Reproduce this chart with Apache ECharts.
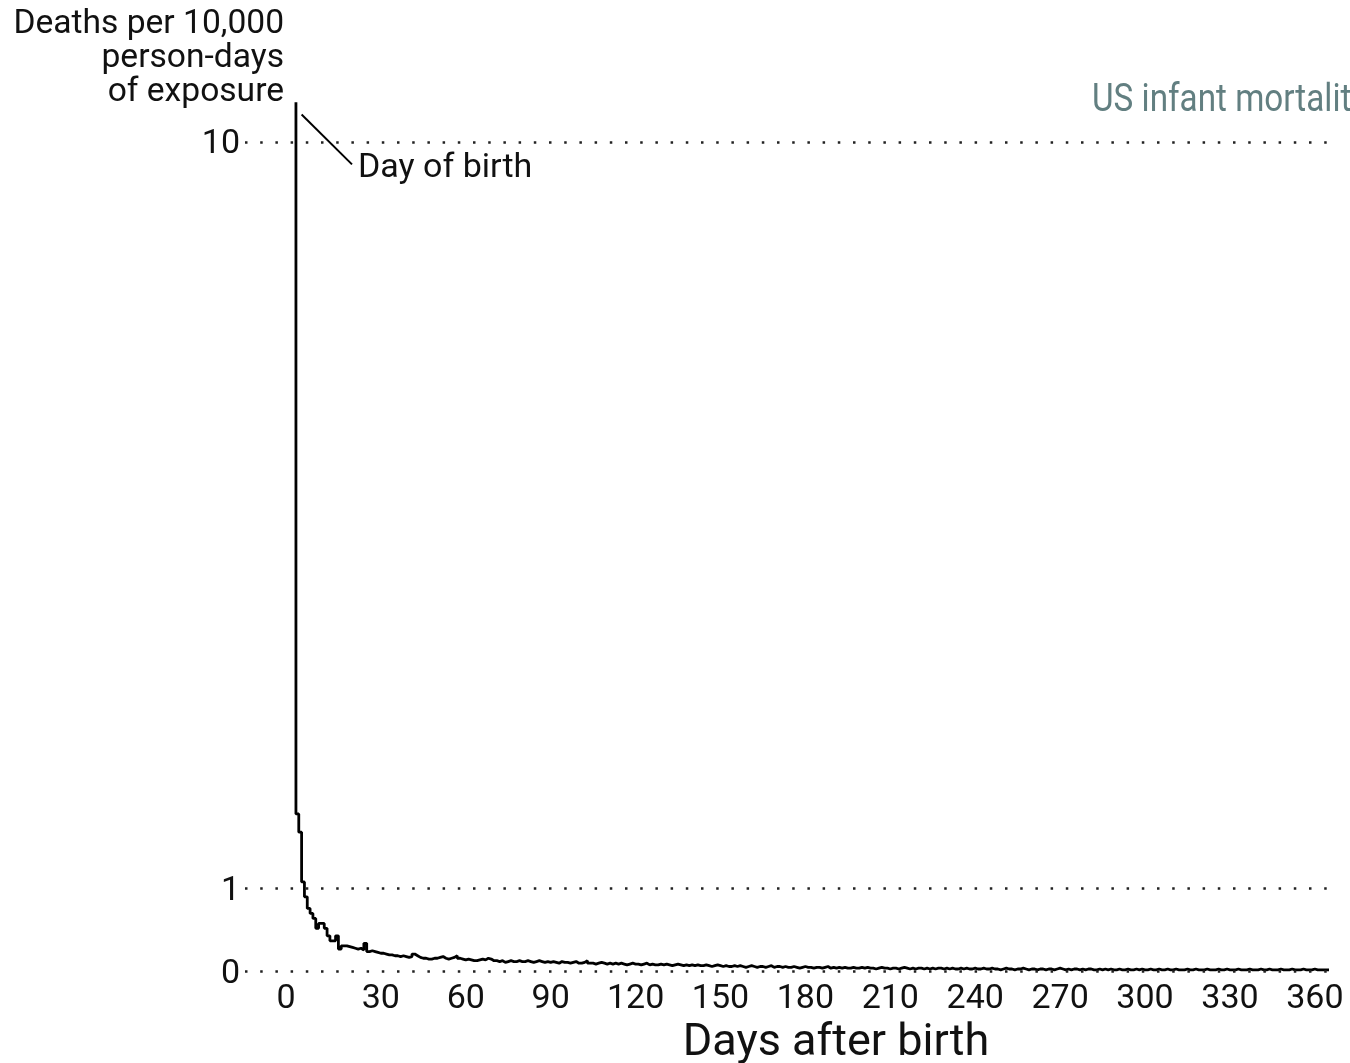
<!DOCTYPE html>
<html><head><meta charset="utf-8">
<script src="https://cdn.jsdelivr.net/npm/echarts@6/dist/echarts.min.js"></script>
<style>html,body{margin:0;padding:0;background:#fff}#c{width:1350px;height:1063px}</style>
</head><body><div id="c"></div>
<script>
// Deaths per 10,000 person-days of exposure, by day after birth (day 0 .. 365)
const deathRate = [
  10.48,
  1.90, 1.68, 1.08, 0.90, 0.76, 0.70, 0.64, 0.52, 0.58, 0.58,
  0.52, 0.43, 0.37, 0.37, 0.43, 0.27, 0.31, 0.31, 0.30, 0.29,
  0.28, 0.27, 0.28, 0.26, 0.34, 0.24, 0.25, 0.24, 0.23, 0.22,
  0.22, 0.21, 0.20, 0.20, 0.19, 0.19, 0.18, 0.19, 0.18, 0.17,
  0.18, 0.21, 0.19, 0.17, 0.16, 0.16, 0.15, 0.15, 0.16, 0.16,
  0.17, 0.18, 0.16, 0.15, 0.16, 0.17, 0.19, 0.16, 0.15, 0.14,
  0.15, 0.14, 0.13, 0.13, 0.14, 0.15, 0.14, 0.16, 0.15, 0.13,
  0.13, 0.12, 0.13, 0.11, 0.12, 0.13, 0.12, 0.12, 0.13, 0.12,
  0.12, 0.13, 0.12, 0.11, 0.12, 0.13, 0.12, 0.11, 0.12, 0.11,
  0.12, 0.11, 0.10, 0.12, 0.11, 0.11, 0.10, 0.11, 0.12, 0.10,
  0.10, 0.11, 0.13, 0.10, 0.10, 0.09, 0.10, 0.11, 0.10, 0.09,
  0.10, 0.09, 0.10, 0.09, 0.10, 0.09, 0.08, 0.09, 0.10, 0.09,
  0.09, 0.08, 0.09, 0.10, 0.08, 0.09, 0.08, 0.08, 0.09, 0.08,
  0.09, 0.08, 0.07, 0.08, 0.09, 0.08, 0.07, 0.08, 0.07, 0.08,
  0.07, 0.08, 0.07, 0.07, 0.08, 0.07, 0.06, 0.07, 0.08, 0.07,
  0.06, 0.07, 0.06, 0.06, 0.07, 0.06, 0.07, 0.06, 0.05, 0.06,
  0.07, 0.06, 0.05, 0.06, 0.06, 0.05, 0.06, 0.07, 0.05, 0.06,
  0.06, 0.05, 0.06, 0.05, 0.05, 0.06, 0.05, 0.04, 0.05, 0.06,
  0.05, 0.05, 0.04, 0.05, 0.05, 0.04, 0.05, 0.06, 0.04, 0.05,
  0.04, 0.05, 0.04, 0.05, 0.04, 0.04, 0.05, 0.04, 0.04, 0.05,
  0.04, 0.05, 0.04, 0.04, 0.03, 0.04, 0.05, 0.04, 0.04, 0.03,
  0.04, 0.04, 0.03, 0.04, 0.05, 0.04, 0.03, 0.04, 0.03, 0.04,
  0.04, 0.03, 0.04, 0.03, 0.04, 0.03, 0.04, 0.04, 0.03, 0.04,
  0.03, 0.04, 0.03, 0.03, 0.04, 0.03, 0.04, 0.03, 0.03, 0.04,
  0.03, 0.03, 0.04, 0.03, 0.03, 0.04, 0.03, 0.03, 0.02, 0.03,
  0.04, 0.03, 0.03, 0.02, 0.03, 0.03, 0.04, 0.03, 0.02, 0.03,
  0.03, 0.02, 0.03, 0.03, 0.02, 0.03, 0.03, 0.02, 0.03, 0.04,
  0.03, 0.02, 0.03, 0.02, 0.03, 0.03, 0.02, 0.03, 0.02, 0.03,
  0.03, 0.02, 0.02, 0.03, 0.02, 0.03, 0.02, 0.03, 0.02, 0.02,
  0.03, 0.02, 0.02, 0.03, 0.02, 0.02, 0.03, 0.02, 0.03, 0.02,
  0.02, 0.03, 0.02, 0.02, 0.03, 0.02, 0.02, 0.03, 0.02, 0.02,
  0.03, 0.02, 0.02, 0.02, 0.03, 0.02, 0.02, 0.03, 0.02, 0.02,
  0.02, 0.03, 0.02, 0.02, 0.02, 0.03, 0.02, 0.02, 0.03, 0.02,
  0.02, 0.02, 0.03, 0.02, 0.02, 0.02, 0.03, 0.02, 0.02, 0.02,
  0.03, 0.02, 0.02, 0.03, 0.02, 0.02, 0.02, 0.03, 0.02, 0.02,
  0.02, 0.03, 0.02, 0.02, 0.02, 0.03, 0.02, 0.02, 0.02, 0.03,
  0.02, 0.02, 0.02, 0.02, 0.02
];
const xTickLabels = [0, 30, 60, 90, 120, 150, 180, 210, 240, 270, 300, 330, 360];
const yTickLabels = [0, 1, 10];
const titleText = 'US infant mortality';
const yAxisTitle = 'Deaths per 10,000\nperson-days\nof exposure';
const xAxisTitle = 'Days after birth';
const annotationText = 'Day of birth';

const FONT = 'Roboto, "Noto Sans", sans-serif';
const seriesData = deathRate.map((v, i) => [i, v]);
const chart = echarts.init(document.getElementById('c'), null, {renderer: 'canvas'});

const gridLines = yTickLabels.map(v => [{coord: [-18, v]}, {coord: [365, v]}]);

chart.setOption({
  animation: false,
  backgroundColor: '#fff',
  grid: {left: 245, right: 21, top: 59, bottom: 91.5, containLabel: false},
  xAxis: {
    type: 'value', min: -18, max: 365,
    axisLine: {show: false}, axisTick: {show: false}, splitLine: {show: false},
    axisLabel: {
      customValues: xTickLabels,
      margin: 11,
      color: '#111', fontSize: 34, fontFamily: FONT,
      formatter: v => v === 0 ? '{s|0}' : String(v),
      rich: {s: {fontSize: 34, fontFamily: FONT, color: '#111', padding: [0, 20, 0, 0]}}
    }
  },
  yAxis: {
    type: 'value', min: 0, max: 11, interval: 1,
    axisLine: {show: false}, axisTick: {show: false}, splitLine: {show: false},
    axisLabel: {
      customValues: yTickLabels,
      margin: 5,
      color: '#111', fontSize: 34, fontFamily: FONT,
      formatter: v => yTickLabels.includes(v) ? '{t|' + v + '}' : '',
      rich: {t: {fontSize: 34, fontFamily: FONT, color: '#111', padding: [6, 0, 0, 0]}}
    }
  },
  series: [
    {
      type: 'line', data: [], z: 1, silent: true,
      markLine: {
        silent: true, symbol: 'none', animation: false,
        label: {show: false},
        lineStyle: {type: [2.5, 12.7], width: 2.5, color: '#222'},
        data: gridLines
      }
    },
    {
      type: 'line', step: 'start', data: seriesData, z: 3,
      showSymbol: false, symbol: 'none',
      lineStyle: {color: '#000', width: 2.8}
    }
  ]
});

// annotation anchored to data coordinates
const p1 = chart.convertToPixel({gridIndex: 0}, [2, 10.33]);
const p2 = chart.convertToPixel({gridIndex: 0}, [19.8, 9.73]);

chart.setOption({
  graphic: [
    {type: 'line', shape: {x1: p1[0], y1: p1[1], x2: p2[0], y2: p2[1]},
     style: {stroke: '#000', lineWidth: 2}, z: 10},
    {type: 'text', x: p2[0] + 6, y: p2[1] + 4,
     style: {text: annotationText, font: '34px ' + FONT, fill: '#111', textAlign: 'left', textVerticalAlign: 'middle'}, z: 10},
    {type: 'text', x: 284, y: 8,
     style: {text: yAxisTitle, font: '33.6px ' + FONT, fill: '#111', textAlign: 'right', textVerticalAlign: 'top', lineHeight: 34}, z: 10},
    {type: 'text', x: 836, y: 1044,
     style: {text: xAxisTitle, font: '45px ' + FONT, fill: '#111', textAlign: 'center', textVerticalAlign: 'middle'}, z: 10},
    {type: 'text', x: 1092, y: 101, scaleX: 0.875,
     style: {text: titleText, font: '38px ' + FONT, fill: '#627f81', textAlign: 'left', textVerticalAlign: 'middle'}, z: 10}
  ]
});
</script>
</body></html>
